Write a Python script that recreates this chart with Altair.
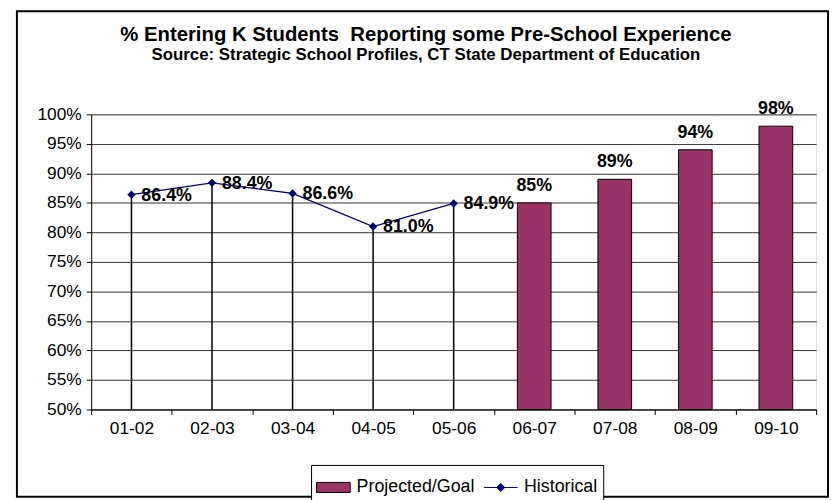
import altair as alt
import pandas as pd

hist_years = ["01-02", "02-03", "03-04", "04-05", "05-06"]
hist_values = [0.864, 0.884, 0.866, 0.810, 0.849]
goal_years = ["06-07", "07-08", "08-09", "09-10"]
goal_values = [0.85, 0.89, 0.94, 0.98]
all_years = hist_years + goal_years
y_ticks = [0.50, 0.55, 0.60, 0.65, 0.70, 0.75, 0.80, 0.85, 0.90, 0.95, 1.00]
series_names = ["Projected/Goal", "Historical"]
series_fill = ["#993366", "#000080"]
series_stroke = ["#000000", "#000080"]
legend_shapes = ["M-1,-0.3H1V0.3H-1Z", "M-1,0H1M0,-0.24L0.24,0L0,0.24L-0.24,0Z"]

FONT = "Liberation Sans"

hist = pd.DataFrame({"year": hist_years, "value": hist_values, "series": "Historical"})
goal = pd.DataFrame({"year": goal_years, "value": goal_values, "series": "Projected/Goal"})

x = alt.X("year:N", sort=all_years,
          scale=alt.Scale(domain=all_years, paddingInner=0, paddingOuter=0),
          axis=alt.Axis(title=None, labelAngle=0, tickBand="extent", grid=False,
                        domainColor="black", tickColor="black", tickSize=5,
                        labelPadding=5, labelFontSize=17.5, labelColor="black", labelFont=FONT))
y = alt.Y("value:Q",
          scale=alt.Scale(domain=[0.5, 1.0], zero=False, nice=False),
          axis=alt.Axis(title=None, values=y_ticks, format=".0%", grid=True,
                        gridColor="#333333", gridWidth=1,
                        domainColor="black", tickColor="black", tickSize=5,
                        labelPadding=5, labelFontSize=17.5, labelColor="black", labelFont=FONT))

bars = alt.Chart(goal).mark_bar(size=34, color="#993366", stroke="black", strokeWidth=1).encode(
    x=x, y=y, y2=alt.datum(0.5))

drops = alt.Chart(hist).mark_rule(color="black", strokeWidth=1.5).encode(
    x=x, y=y, y2=alt.datum(0.5))

line = alt.Chart(hist).mark_line(color="#000080", strokeWidth=1.3).encode(x=x, y=y)

points = alt.Chart(hist).mark_point(shape="diamond", filled=True, color="#000080",
                                    size=70, opacity=1).encode(x=x, y=y)

hist_labels = alt.Chart(hist).mark_text(align="left", baseline="middle", dx=10, dy=1,
                                        fontSize=18, fontWeight="bold", font=FONT,
                                        color="black").encode(
    x=x, y=y, text=alt.Text("value:Q", format=".1%"))

goal_labels = alt.Chart(goal).mark_text(align="center", baseline="bottom", dy=-8,
                                        fontSize=18, fontWeight="bold", font=FONT,
                                        color="black").encode(
    x=x, y=y, text=alt.Text("value:Q", format=".0%"))

leg = alt.Legend(title=None, orient="none", legendX=222, legendY=354, direction="horizontal",
                 labelFontSize=18, labelFont=FONT, labelColor="black",
                 symbolSize=1156, symbolStrokeWidth=1, symbolOpacity=1,
                 strokeColor="black", fillColor="white", padding=5,
                 columnPadding=6, labelOffset=6)

legend_layer = alt.Chart(hist).transform_filter("datum.value < 0").mark_point(
    filled=True, opacity=1).encode(
    x=x, y=y,
    color=alt.Color("series:N", scale=alt.Scale(domain=series_names, range=series_fill), legend=leg),
    shape=alt.Shape("series:N", scale=alt.Scale(domain=series_names, range=legend_shapes), legend=leg),
    stroke=alt.Stroke("series:N", scale=alt.Scale(domain=series_names, range=series_stroke), legend=leg),
)

frame = alt.Chart(alt.Data(values=[{}])).mark_rect(
    fill="transparent", stroke="black", strokeWidth=2).encode(
    x=alt.value(-75), x2=alt.value(744), y=alt.value(-104), y2=alt.value(386))

chart = alt.layer(bars, drops, line, points, hist_labels, goal_labels, legend_layer, frame).properties(
    width=732, height=298,
    padding={"left": 84, "top": 105, "right": 15, "bottom": 89},
    autosize=alt.AutoSizeParams(type="none"),
    title=alt.Title(
        text="% Entering K Students\u00a0 Reporting some Pre-School Experience",
        subtitle="Source: Strategic School Profiles, CT State Department of Education",
        anchor="middle", dx=-28, offset=-53, fontSize=20.5, subtitleFontSize=17,
        fontWeight="bold", subtitleFontWeight="bold", color="black", subtitleColor="black",
        font=FONT, subtitleFont=FONT, subtitlePadding=2),
).configure_view(fill="#C0C0C0", stroke="#808080", strokeWidth=1).configure(
    background="white", font=FONT)

chart.save("out.html", embed_options={"renderer": "svg", "actions": False})
